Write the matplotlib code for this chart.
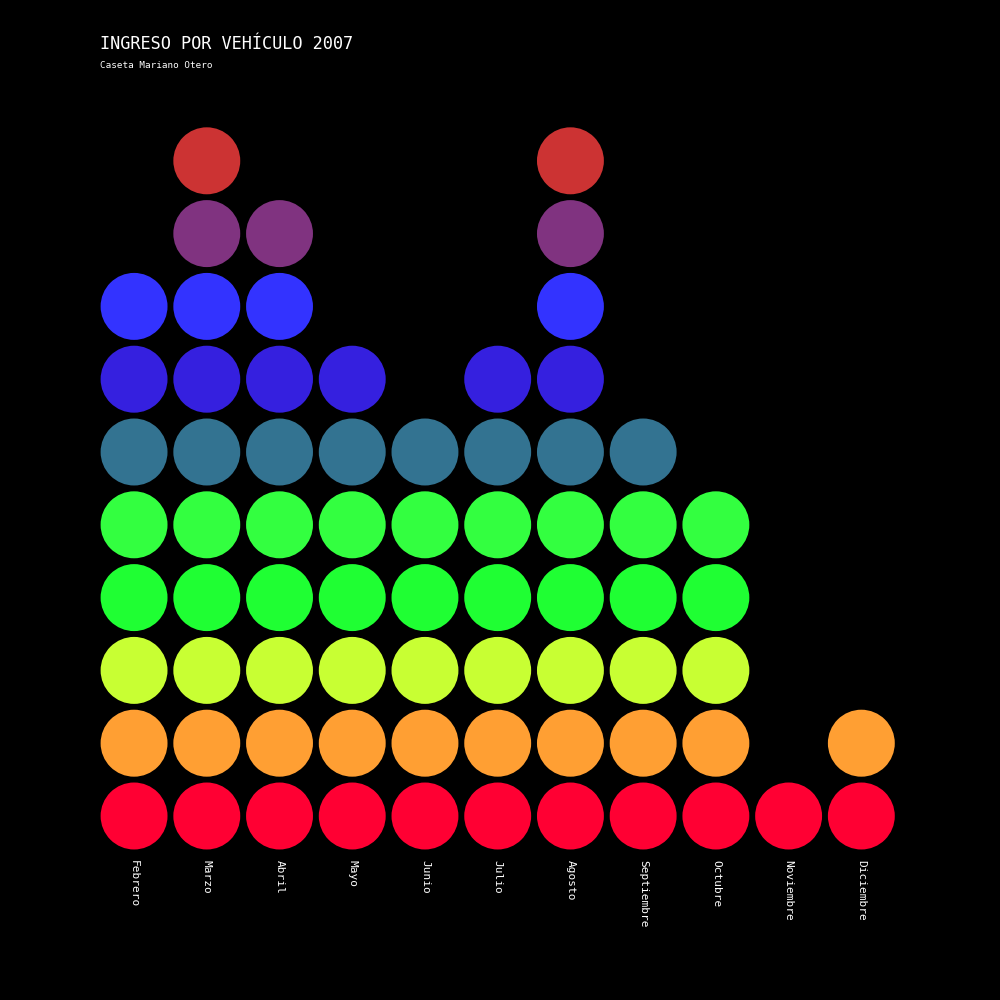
import matplotlib
matplotlib.use("Agg")
import matplotlib.pyplot as plt
from matplotlib.patches import Circle
import matplotlib.transforms as mtransforms

months = ["Febrero", "Marzo", "Abril", "Mayo", "Junio", "Julio", "Agosto",
          "Septiembre", "Octubre", "Noviembre", "Diciembre"]
counts = [8, 10, 9, 7, 6, 7, 10, 6, 5, 1, 2]
level_colors = ["#FF0033", "#FF9F33", "#C8FF33", "#1FFF33", "#33FF40",
                "#337391", "#3520DF", "#3333FF", "#803380", "#CC3333"]

title = "INGRESO POR VEHÍCULO 2007"
subtitle = "Caseta Mariano Otero"

fig = plt.figure(figsize=(10, 10), dpi=100, facecolor="black")
ax = fig.add_axes([0.0977, 0.1476, 0.80, 0.728])
ax.set_facecolor("black")
ax.set_xlim(-0.5, len(months) - 0.5)
ax.set_ylim(-0.5, 9.5)
ax.axis("off")

for i, n in enumerate(counts):
    for j in range(n):
        ax.add_patch(Circle((i, j), 0.46, facecolor=level_colors[j],
                            edgecolor="none"))

trans = mtransforms.blended_transform_factory(ax.transData, fig.transFigure)
for i, m in enumerate(months):
    ax.text(i, 0.14, m, transform=trans, rotation=270, ha="center", va="top",
            color="white", fontsize=8, family="DejaVu Sans Mono")

fig.text(0.100, 0.956, title, color="white", fontsize=12.2,
         family="DejaVu Sans Mono", ha="left", va="center")
fig.text(0.100, 0.934, subtitle, color="white", fontsize=6.7,
         family="DejaVu Sans Mono", ha="left", va="center")

fig.savefig("out.png", dpi=100, facecolor="black")
